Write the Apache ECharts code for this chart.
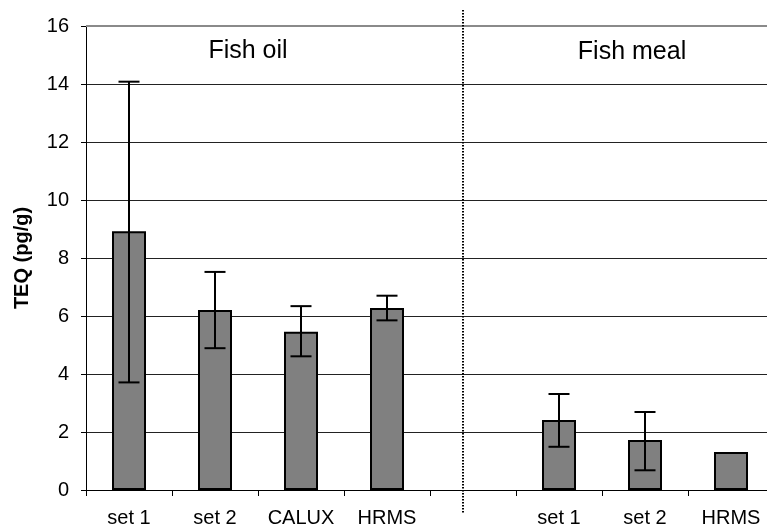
<!DOCTYPE html>
<html>
<head>
<meta charset="utf-8">
<script src="https://cdn.jsdelivr.net/npm/echarts@6/dist/echarts.min.js"></script>
<style>
html,body{margin:0;padding:0;background:#fff;}
#c{width:767px;height:530px;}
</style>
</head>
<body>
<div id="c"></div>
<script>
var categories = ['set 1', 'set 2', 'CALUX', 'HRMS', '', 'set 1', 'set 2', 'HRMS'];
var teqValues = [8.92, 6.21, 5.46, 6.28, null, 2.41, 1.72, 1.31];
var errLow  = [3.71, 4.89, 4.61, 5.85, null, 1.49, 0.68, null];
var errHigh = [14.08, 7.52, 6.34, 6.70, null, 3.31, 2.69, null];
var yTicks = [0, 2, 4, 6, 8, 10, 12, 14, 16];
var groupTitles = ['Fish oil', 'Fish meal'];
var dividerPos = 4.38; // in category units from left edge

var errData = [];
for (var i = 0; i < categories.length; i++) {
  if (errLow[i] != null) errData.push([i, errLow[i], errHigh[i]]);
}

var chart = echarts.init(document.getElementById('c'), null, {renderer: 'canvas'});
var font = '"Liberation Sans", Arial, sans-serif';

var option = {
  animation: false,
  backgroundColor: '#fff',
  title: [
    {text: groupTitles[0], left: 248, top: 39, textAlign: 'center', padding: 0,
     textStyle: {fontFamily: font, fontSize: 25, fontWeight: 'normal', color: '#000'}},
    {text: groupTitles[1], left: 632, top: 40, textAlign: 'center', padding: 0,
     textStyle: {fontFamily: font, fontSize: 25, fontWeight: 'normal', color: '#000'}}
  ],
  grid: {left: 86, right: -7, top: 26, bottom: 40, containLabel: false, outerBoundsMode: 'none'},
  xAxis: [{
    type: 'category',
    data: categories,
    boundaryGap: true,
    axisLine: {lineStyle: {color: '#000', width: 1}},
    axisTick: {show: true, length: 6, interval: 0, alignWithLabel: false, lineStyle: {color: '#000'}},
    axisLabel: {interval: 0, margin: 18, color: '#000', fontFamily: font, fontSize: 20},
    splitLine: {show: false}
  }, {
    type: 'value', min: 0, max: 8, show: false, position: 'top'
  }],
  yAxis: {
    type: 'value',
    min: 0, max: 16, interval: 2,
    name: 'TEQ (pg/g)',
    nameLocation: 'middle',
    nameRotate: 90,
    nameGap: 54,
    nameTextStyle: {fontFamily: font, fontSize: 20, fontWeight: 'bold', color: '#000'},
    axisLine: {show: true, lineStyle: {color: '#000', width: 1}},
    axisTick: {show: true, length: 5, inside: false, lineStyle: {color: '#000'}},
    axisLabel: {margin: 17, color: '#000', fontFamily: font, fontSize: 20,
      formatter: function (v) { return yTicks.indexOf(v) >= 0 ? String(v) : ''; }},
    splitLine: {show: true, lineStyle: {color: '#222', width: 1}}
  },
  series: [{
    type: 'bar',
    data: teqValues,
    barWidth: 34,
    itemStyle: {color: '#808080', borderColor: '#000', borderWidth: 2},
    markLine: {
      silent: true, symbol: 'none', label: {show: false},
      lineStyle: {color: '#8a8a8a', width: 2, type: 'solid'},
      data: [{yAxis: 16}]
    },
    z: 2
  }, {
    type: 'custom',
    data: errData,
    encode: {x: 0, y: [1, 2]},
    z: 3,
    renderItem: function (params, api) {
      var x = api.value(0);
      var lo = api.coord([x, api.value(1)]);
      var hi = api.coord([x, api.value(2)]);
      var hw = 10.5;
      var st = {stroke: '#000', lineWidth: 2};
      return {
        type: 'group',
        children: [
          {type: 'line', shape: {x1: lo[0], y1: lo[1], x2: hi[0], y2: hi[1]}, style: st},
          {type: 'line', shape: {x1: hi[0] - hw, y1: hi[1], x2: hi[0] + hw, y2: hi[1]}, style: st},
          {type: 'line', shape: {x1: lo[0] - hw, y1: lo[1], x2: lo[0] + hw, y2: lo[1]}, style: st}
        ]
      };
    }
  }]
};
chart.setOption(option);

var dx = chart.convertToPixel({xAxisIndex: 1}, dividerPos);
var yTop = chart.convertToPixel({yAxisIndex: 0}, 16.55);
var yBot = chart.convertToPixel({yAxisIndex: 0}, -0.8);
chart.setOption({
  graphic: [{
    type: 'line', silent: true, z: 10,
    shape: {x1: Math.round(dx), y1: yTop, x2: Math.round(dx), y2: yBot},
    style: {stroke: '#000', lineWidth: 2, lineDash: [1.5, 1.5]}
  }]
});
</script>
</body>
</html>
